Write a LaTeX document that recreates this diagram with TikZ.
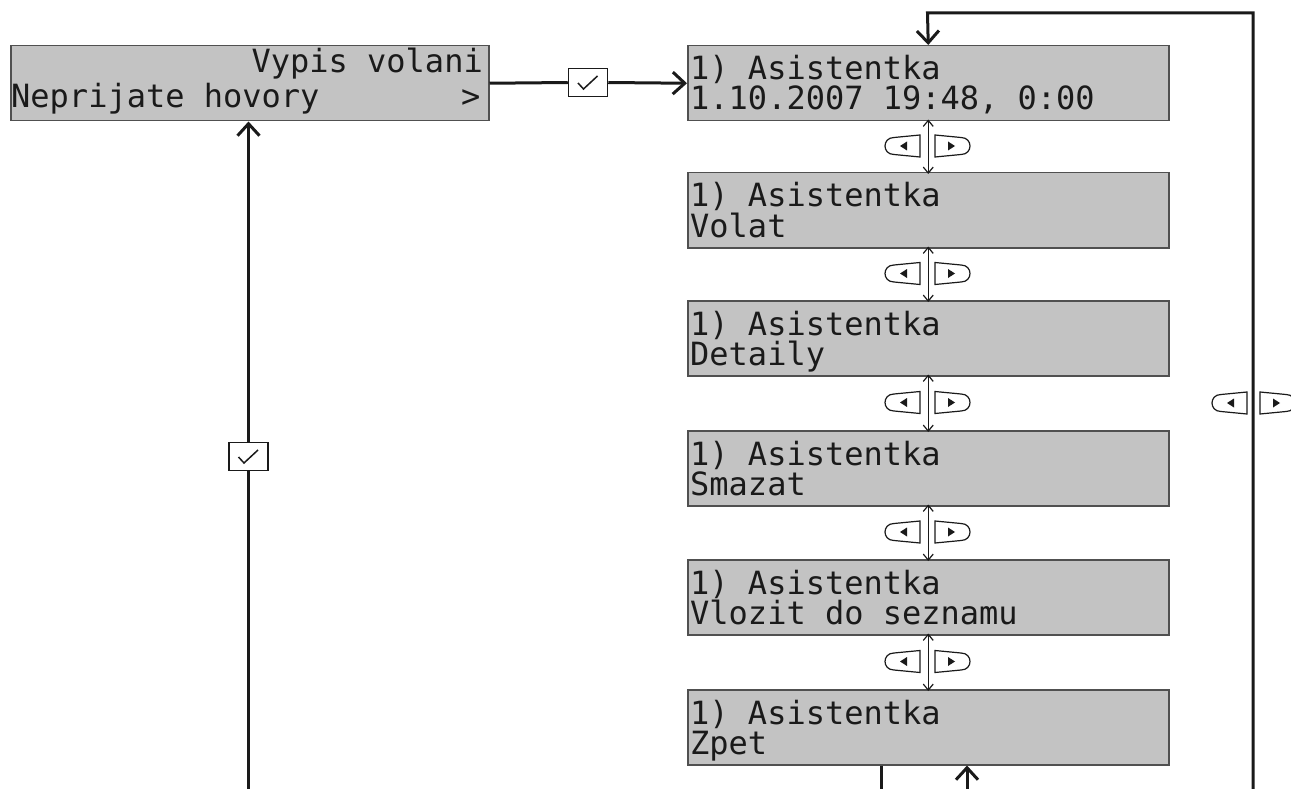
\documentclass[tikz,border=0pt]{standalone}
\usepackage{fontspec}
\newfontfamily\lcdfont{DejaVu Sans Mono}
\usetikzlibrary{arrows.meta}
\definecolor{lcdfill}{HTML}{C3C3C3}
\definecolor{lcdborder}{HTML}{505050}
\definecolor{ink}{HTML}{1A1A1A}
\tikzset{
  lcd/.style={draw=lcdborder, fill=lcdfill, line width=1.5pt, minimum width=481pt, minimum height=75pt, inner sep=0pt, anchor=north west},
  lcdtxt/.style={inner sep=0pt, anchor=base west, text=ink, font=\lcdfont\fontsize{32}{30}\selectfont},
  chk/.style={draw=ink, fill=white, line width=1.5pt, minimum width=39pt, minimum height=28pt, inner sep=0pt},
  mainline/.style={draw=ink, line width=3pt},
  bigtip/.style={-{Straight Barb[length=12pt,width=22pt,line width=3pt]}},
  thinarrow/.style={draw=ink, line width=1.2pt, {Straight Barb[length=6pt,width=10pt,line width=1.2pt]}-{Straight Barb[length=6pt,width=10pt,line width=1.2pt]}},
  lbtn/.pic={
    \draw[ink, line width=1.2pt, fill=white] (0,-11) -- (-26,-8.5) .. controls (-38,-8.5) and (-38,8.5) .. (-26,8.5) -- (0,11) -- cycle;
    \fill[ink] (-20,0) -- (-13,-4.5) -- (-13,4.5) -- cycle;
  },
  rbtn/.pic={
    \draw[ink, line width=1.2pt, fill=white] (0,-11) -- (26,-8.5) .. controls (38,-8.5) and (38,8.5) .. (26,8.5) -- (0,11) -- cycle;
    \fill[ink] (20,0) -- (13,-4.5) -- (13,4.5) -- cycle;
  },
}
\begin{document}
\begin{tikzpicture}[x=1pt,y=-1pt]
\useasboundingbox (0,0) rectangle (1291,789);

% left box
\node[lcd, minimum width=478pt, anchor=north west] (L) at (10,45) {};
\node[lcdtxt, anchor=base east] (La) at (483,73) {Vypis volani};
\node[lcdtxt] (Lb) at (11,108) {Neprijate hovory};
\node[lcdtxt] (Lc) at (461,108) {>};

% right boxes
\node[lcd] (b1) at (687,45) {};
\node[lcdtxt] (b1a) at (690,80) {1) Asistentka};
\node[lcdtxt] (b1b) at (690,110) {1.10.2007 19:48, 0:00};

\node[lcd] (b2) at (687,172) {};
\node[lcdtxt] (b2a) at (690,207) {1) Asistentka};
\node[lcdtxt] (b2b) at (690,237) {Volat};

\node[lcd] (b3) at (687,300) {};
\node[lcdtxt] (b3a) at (690,335) {1) Asistentka};
\node[lcdtxt] (b3b) at (690,365) {Detaily};

\node[lcd] (b4) at (687,430) {};
\node[lcdtxt] (b4a) at (690,465) {1) Asistentka};
\node[lcdtxt] (b4b) at (690,495) {Smazat};

\node[lcd] (b5) at (687,559) {};
\node[lcdtxt] (b5a) at (690,594) {1) Asistentka};
\node[lcdtxt] (b5b) at (690,624) {Vlozit do seznamu};

\node[lcd] (b6) at (687,689) {};
\node[lcdtxt] (b6a) at (690,724) {1) Asistentka};
\node[lcdtxt] (b6b) at (690,754) {Zpet};

% double arrows and buttons between boxes
\foreach \a/\b in {b1/b2,b2/b3,b3/b4,b4/b5,b5/b6}{
  \draw[thinarrow] ([yshift=2pt]\a.south) -- ([yshift=-2pt]\b.north);
}
\foreach \y in {146,273.5,402.5,532,661.5}{
  \pic at (920,\y) {lbtn};
  \pic at (935,\y) {rbtn};
}

% check boxes
\node[chk] (c1) at (588,82.5) {};
\node[chk] (c2) at (248.5,456.5) {};

% horizontal connector
\draw[mainline] (L.east) -- (c1.west);
\draw[mainline, bigtip] (c1.east) -- (b1.west);
\draw[ink, line width=1.5pt] ([shift={(-10,0.5)}]c1.center) -- ([shift={(-4.5,6.5)}]c1.center) -- ([shift={(9.5,-6.5)}]c1.center);

% left vertical connector
\coordinate (l0) at (248.5,789);
\draw[mainline] (l0) -- (c2.south);
\draw[mainline, bigtip] (c2.north) -- (L.south -| l0);
\draw[ink, line width=1.5pt] ([shift={(-10,0.5)}]c2.center) -- ([shift={(-4.5,6.5)}]c2.center) -- ([shift={(9.5,-6.5)}]c2.center);

% bottom connectors
\coordinate (z1) at (881,789);
\coordinate (z2) at (967,789);
\draw[mainline] (b6.south -| z1) -- (z1);
\draw[mainline, bigtip] (z2) -- (b6.south -| z2);

% right loop
\coordinate (r0) at (1253,789);
\coordinate (r1) at (1253,13);
\coordinate (r2) at (927.5,13);
\draw[mainline, bigtip] (r0) -- (r1) -- (r2) -- (b1.north);
\pic at (1247,403) {lbtn};
\pic at (1260,403) {rbtn};
\end{tikzpicture}
\end{document}
